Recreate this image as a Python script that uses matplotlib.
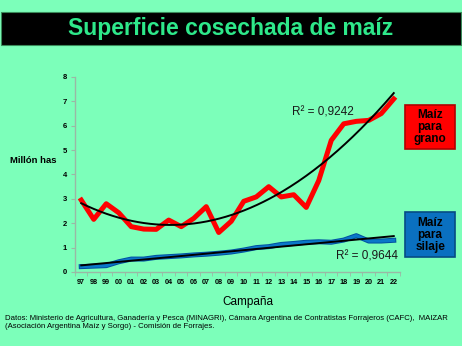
import matplotlib.pyplot as plt
from matplotlib.patches import FancyBboxPatch, Rectangle
import numpy as np

plt.rcParams["font.family"] = ["Liberation Sans", "DejaVu Sans"]

campanas = ["97", "98", "99", "00", "01", "02", "03", "04", "05", "06", "07", "08", "09",
            "10", "11", "12", "13", "14", "15", "16", "17", "18", "19", "20", "21", "22"]
grano = [2.95, 2.16, 2.8, 2.43, 1.86, 1.76, 1.75, 2.13, 1.86, 2.2, 2.68, 1.62, 2.08,
         2.9, 3.08, 3.5, 3.08, 3.17, 2.65, 3.75, 5.4, 6.08, 6.18, 6.22, 6.5, 7.1]
silaje = [0.22, 0.24, 0.26, 0.42, 0.53, 0.53, 0.6, 0.63, 0.66, 0.7, 0.73, 0.77, 0.82,
          0.9, 1.0, 1.04, 1.13, 1.17, 1.22, 1.24, 1.22, 1.31, 1.49, 1.27, 1.27, 1.3]
r2_grano = "R² = 0,9242"
r2_silaje = "R² = 0,9644"

bg = "#7CFFBA"
x = np.arange(len(campanas))

fig = plt.figure(figsize=(4.62, 3.46), dpi=100, facecolor=bg)

# barra de titulo
fig.patches.append(Rectangle((0.003, 0.87), 0.994, 0.095, transform=fig.transFigure,
                             facecolor="black", edgecolor="#3a8a5a", lw=0.8))
fig.text(0.5, 0.917, "Superficie cosechada de maíz", ha="center", va="center",
         fontsize=16.5, fontweight="bold", color="#2EE88A")

ax = fig.add_axes([0.1623, 0.2139, 0.7035, 0.5636])
ax.set_facecolor(bg)

# tendencias
p3 = np.polyfit(x, grano, 3)
p1 = np.polyfit(x, silaje, 1)
xs = np.linspace(0, len(campanas) - 1, 200)

ax.plot(x, grano, color="#FF0000", lw=3.6, solid_joinstyle="round", zorder=2)
ax.plot(x, silaje, color="#0050A0", lw=3.6, zorder=2)
ax.plot(x, silaje, color="#0A78C8", lw=2.2, zorder=2)
ax.plot(xs, np.polyval(p3, xs), color="black", lw=1.4, zorder=3)
ax.plot(xs, np.polyval(p1, xs), color="black", lw=1.4, zorder=3)

ax.text(16.9, 6.55, r2_grano, fontsize=8.5, color="#1a1a1a", va="center")
ax.text(20.4, 0.62, r2_silaje, fontsize=8.5, color="#1a1a1a", va="center")

ax.set_xlim(-0.5, len(campanas) - 0.5)
ax.set_ylim(0, 8)
ax.set_xticks(x)
ax.set_xticklabels(campanas)
ax.set_xticks(np.arange(-0.5, len(campanas), 1), minor=True)
ax.set_yticks(range(0, 9))
ax.tick_params(axis="x", which="major", length=0, labelsize=5.2, pad=5)
ax.tick_params(axis="x", which="minor", length=3, color="#9ab8a5")
ax.tick_params(axis="y", length=3, color="#9ab8a5", labelsize=5.5, pad=3)
for lab in ax.get_xticklabels() + ax.get_yticklabels():
    lab.set_fontweight("bold")
for s in ["top", "right"]:
    ax.spines[s].set_visible(False)
for s in ["left", "bottom"]:
    ax.spines[s].set_color("#9ab8a5")
    ax.spines[s].set_linewidth(1.0)

fig.text(0.022, 0.535, "Millón has", fontsize=6.8, fontweight="bold", va="center")
fig.text(0.537, 0.128, "Campaña", fontsize=8.5, ha="center", va="center")

# cajas de leyenda
for y0, col, edge, txt in [(0.568, "#FF0000", "#b00000", "Maíz\npara\ngrano"),
                           (0.258, "#0A70C0", "#064c85", "Maíz\npara\nsilaje")]:
    fig.patches.append(FancyBboxPatch((0.877, y0), 0.108, 0.128, transform=fig.transFigure,
                                      boxstyle="square,pad=0", facecolor=col,
                                      edgecolor=edge, lw=1.2))
    fig.text(0.931, y0 + 0.064, txt, ha="center", va="center", fontsize=8.5,
             fontweight="bold", linespacing=1.0)

fig.text(0.011, 0.068, "Datos: Ministerio de Agricultura, Ganadería y Pesca (MINAGRI), "
         "Cámara Argentina de Contratistas Forrajeros (CAFC),  MAIZAR\n"
         "(Asociación Argentina Maíz y Sorgo) - Comisión de Forrajes.",
         fontsize=5.6, va="center", linespacing=1.25)

fig.savefig("out.png", dpi=100, facecolor=bg)
